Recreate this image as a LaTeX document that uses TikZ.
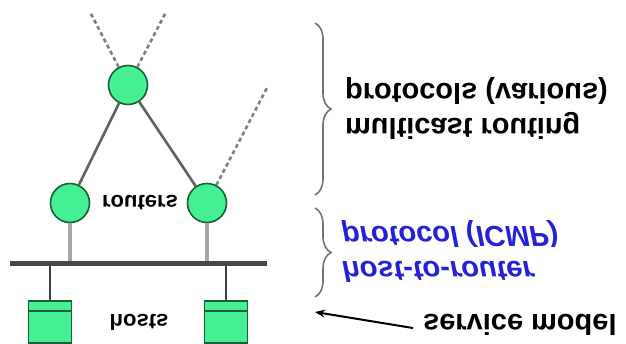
\documentclass[tikz,border=0pt]{standalone}
\usepackage{fontspec}
\setmainfont{Liberation Sans}
\usetikzlibrary{decorations.pathreplacing,arrows.meta}
\definecolor{rgreen}{HTML}{44F092}
\definecolor{rborder}{HTML}{1C5E3A}
\definecolor{icmpblue}{HTML}{2222D8}
\newcommand{\flipv}[1]{\scalebox{1}[-1]{#1}}
\begin{document}
\begin{tikzpicture}[x=1pt,y=-1pt,
  router/.style={circle,draw=rborder,line width=1.6pt,fill=rgreen,minimum size=39pt,inner sep=0pt},
  hostbox/.style={rectangle,draw=rborder,line width=1.6pt,fill=rgreen,minimum width=43pt,minimum height=42pt,inner sep=0pt},
  link/.style={draw=black!62,line width=2.6pt},
  futurelink/.style={draw=black!50,line width=2.6pt,dash pattern=on 4pt off 3pt},
  stub/.style={draw=black!35,line width=3.2pt},
  hoststub/.style={draw=black!75,line width=2.6pt},
  bus/.style={draw=black!72,line width=5pt},
  lbl/.style={inner sep=0pt,font=\fontsize{22}{26}\selectfont\bfseries},
  big/.style={inner sep=0pt,anchor=west,align=left,font=\fontsize{29}{35}\selectfont\bfseries},
  bracebar/.style={draw=black!55,line width=1.6pt,decorate,decoration={brace,amplitude=16pt}}
]
\useasboundingbox (0,0) rectangle (626,343);

% bus
\coordinate (bl) at (10,263);
\coordinate (br) at (267,263);

% routers
\node[router] (r1) at (128,85) {};
\node[router] (r2) at (70,203) {};
\node[router] (r3) at (207,203) {};

% hosts
\node[hostbox] (h1) at (50,322) {};
\node[hostbox] (h2) at (226,322) {};
\draw[draw=rborder,line width=1.6pt] ([yshift=-11pt]h1.north west) -- ([yshift=-11pt]h1.north east);
\draw[draw=rborder,line width=1.6pt] ([yshift=-11pt]h2.north west) -- ([yshift=-11pt]h2.north east);

% links
\draw[link] (r1) -- (r2);
\draw[link] (r1) -- (r3);
\coordinate (d1) at (90,12);
\coordinate (d2) at (166,12);
\coordinate (d3) at (268,86);
\draw[futurelink] (r1) -- (d1);
\draw[futurelink] (r1) -- (d2);
\draw[futurelink] (r3) -- (d3);

\draw[stub] (r2.south) -- (r2.south |- bl);
\draw[stub] (r3.south) -- (r3.south |- bl);
\draw[hoststub] (h1.north) -- (h1.north |- bl);
\draw[hoststub] (h2.north) -- (h2.north |- bl);
\draw[bus] (bl) -- (br);

% labels
\node[lbl] (lr) at (140,203) {\flipv{routers}};
\node[lbl] (lh) at (139,322) {\flipv{hosts}};

% right side
\draw[bracebar] (315,23) -- (315,195);
\draw[bracebar] (315,208) -- (315,297);

\node[big] (mc) at (345,108) {\flipv{\begin{tabular}{@{}l@{}}multicast routing\\protocols (various)\end{tabular}}};
\node[big,text=icmpblue,font=\fontsize{29}{35}\selectfont\bfseries\itshape] (icmp) at (342,251) {\flipv{\begin{tabular}{@{}l@{}}host-to-router\\protocol (ICMP)\end{tabular}}};
\node[big] (sm) at (423,325) {\flipv{service model}};
\coordinate (smt) at (315,312);
\draw[draw=black,line width=2pt,-{Stealth[length=10pt,width=8pt]}] ([xshift=-10pt,yshift=-3pt]sm.west) -- (smt);
\end{tikzpicture}
\end{document}
